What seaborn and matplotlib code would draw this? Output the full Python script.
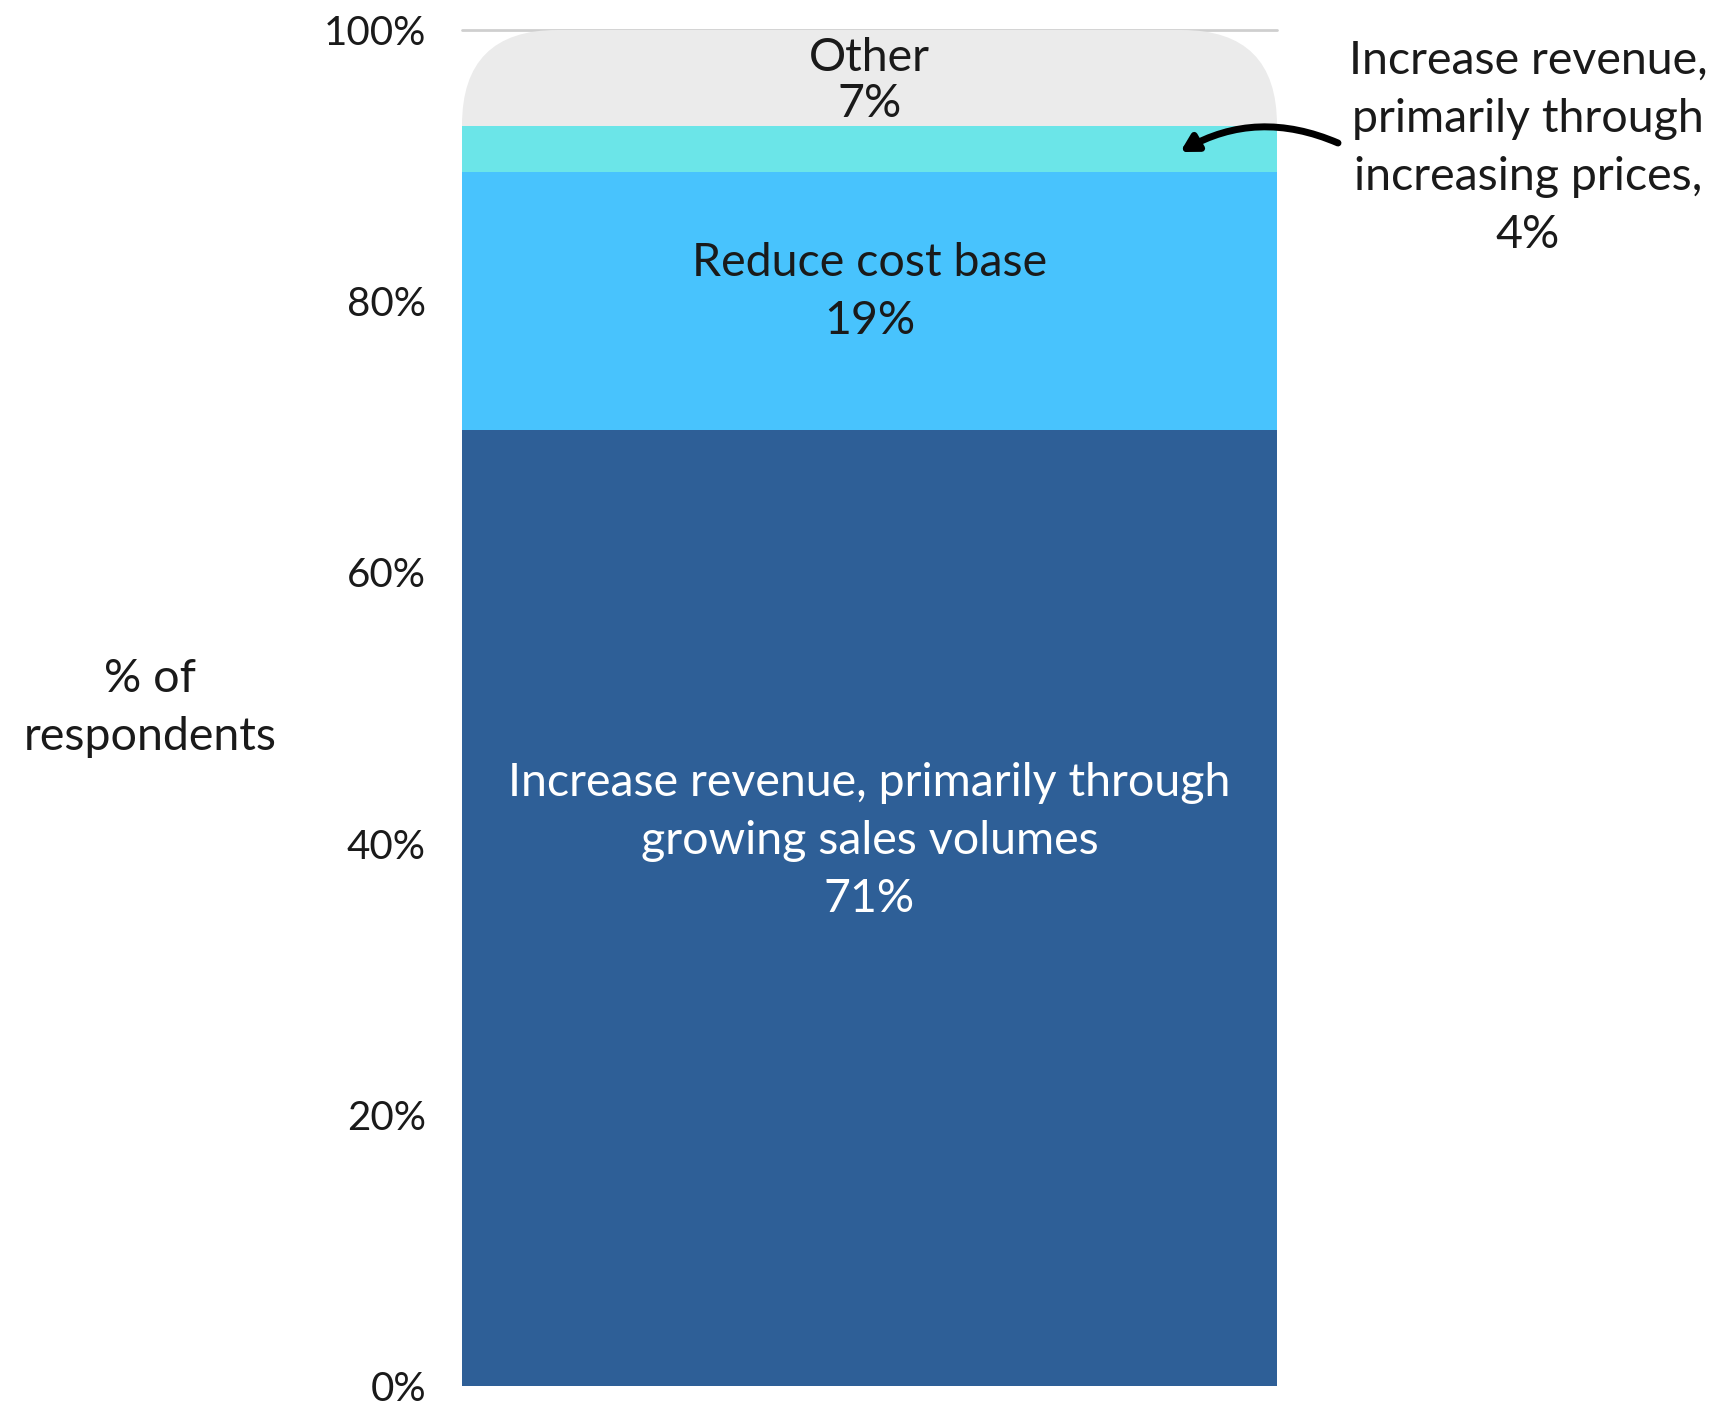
import matplotlib
matplotlib.use("Agg")
import matplotlib.pyplot as plt
import seaborn as sns
import numpy as np
from matplotlib.patches import FancyBboxPatch

# ---- data ----
segments = ["Increase revenue, primarily through\ngrowing sales volumes",
            "Reduce cost base",
            "Increase revenue,\nprimarily through\nincreasing prices,",
            "Other"]
values = [70.5, 19.0, 3.4, 7.1]          # drawn heights (% of respondents)
value_labels = ["71%", "19%", "4%", "7%"]
colors = ["#2E5F97", "#48C3FD", "#6BE5E8", "#EBEBEB"]
yticks = [0, 20, 40, 60, 80, 100]
ytick_labels = ["0%", "20%", "40%", "60%", "80%", "100%"]

sns.set_theme(style="white")
plt.rcParams["font.family"] = ["Lato", "DejaVu Sans"]

LBL = 33.5
LS = 1.47

fig = plt.figure(figsize=(17.22, 14.12), dpi=100)
ax = fig.add_axes([462/1722, 26/1412, 815/1722, 1356/1412])

bottoms = np.concatenate([[0], np.cumsum(values)[:-1]])
for i, (v, b, c) in enumerate(zip(values, bottoms, colors)):
    sns.barplot(x=["All"], y=[v], bottom=b, color=c, width=0.8,
                saturation=1, ax=ax, zorder=2, linewidth=0)

ax.set_xlim(-0.4, 0.4)
ax.set_ylim(0, 100)

# rounded top corners on top segment
fig.canvas.draw()
x_unit = 815 / 0.8
y_unit = 1356 / 100
r_px = 95
rx = r_px / x_unit
ry = r_px / y_unit
clip = FancyBboxPatch((-0.4, 0), 0.8, 100,
                      boxstyle=f"round,pad=0,rounding_size={rx}",
                      mutation_aspect=ry / rx,
                      transform=ax.transData, facecolor="none", edgecolor="none")
ax.add_patch(clip)
ax.patches[3].set_clip_path(clip)

# gridline at top
ax.axhline(100, color="#CFCFCF", lw=2, zorder=1, clip_on=False)

ax.set_yticks(yticks)
ax.set_yticklabels(ytick_labels, fontsize=29, color="#1a1a1a")
ax.tick_params(axis="y", length=0, pad=26)
ax.set_xticks([])
ax.set_xlabel("")
ax.set_ylabel("")
for s in ax.spines.values():
    s.set_visible(False)

# segment labels
ax.text(0, 40.2, segments[0] + "\n" + value_labels[0], ha="center", va="center",
        color="white", fontsize=LBL, linespacing=LS, zorder=5)
ax.text(0, bottoms[1] + values[1] / 2 + 0.7, segments[1] + "\n" + value_labels[1],
        ha="center", va="center", color="#1a1a1a", fontsize=LBL, linespacing=LS, zorder=5)
ax.text(0, bottoms[3] + values[3] / 2 - 0.2, segments[3] + "\n" + value_labels[3],
        ha="center", va="center", color="#1a1a1a", fontsize=LBL, linespacing=1.12, zorder=5)

# external annotation for small segment
fig.text(1528/1722, 1 - 148/1412, segments[2] + "\n" + value_labels[2],
         ha="center", va="center", fontsize=LBL, color="#1a1a1a", linespacing=LS)
ax.annotate("", xy=(0.305, 91.0),
            xytext=(1338/1722, 1 - 143/1412), textcoords="figure fraction",
            arrowprops=dict(arrowstyle="-|>,head_length=0.8,head_width=0.45",
                            connectionstyle="arc3,rad=0.25", color="black", lw=5,
                            shrinkA=0, shrinkB=0),
            annotation_clip=False, zorder=6)

fig.text(150/1722, 1 - 708/1412, "% of\nrespondents", ha="center", va="center",
         fontsize=LBL, color="#1a1a1a", linespacing=LS)

fig.savefig("out.png", dpi=100)
